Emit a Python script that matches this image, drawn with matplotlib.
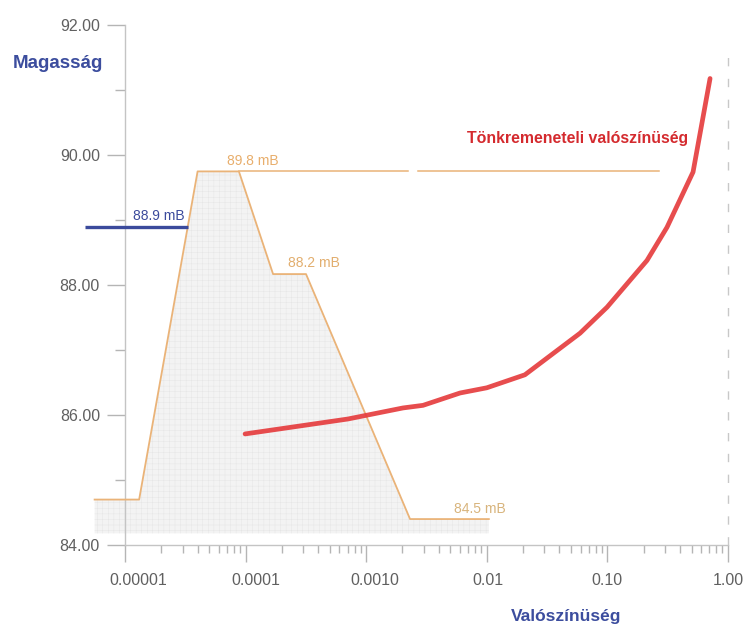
import matplotlib
matplotlib.use("Agg")
import matplotlib.pyplot as plt
import matplotlib.transforms as mtransforms
from matplotlib.ticker import FixedLocator, NullFormatter

plt.rcParams['font.family'] = ['Liberation Sans', 'DejaVu Sans']
plt.rcParams['hatch.linewidth'] = 0.3

# ---- data ----
# distribution (orange profile) of water level vs probability
profile_x = [5.6e-6, 1.31e-5, 4.0e-5, 8.8e-5, 1.69e-4, 3.17e-4, 2.31e-3, 1.04e-2]
profile_y = [84.7, 84.7, 89.75, 89.75, 88.17, 88.17, 84.4, 84.4]
fill_base = 84.18

# long horizontal 89.8 mB level line (two segments with a gap)
level_seg1_x = [8.8e-5, 2.22e-3]
level_seg2_x = [2.69e-3, 0.268]
level_y = 89.75

# blue 88.9 mB level
blue_x = [4.7e-6, 3.3e-5]
blue_y = 88.9

# failure probability curve (red)
fail_x = [9.9e-5, 7.06e-4, 2.02e-3, 2.96e-3, 6.0e-3, 1.0e-2, 2.07e-2, 5.93e-2,
          9.93e-2, 0.213, 0.312, 0.513, 0.710]
fail_y = [85.71, 85.94, 86.11, 86.15, 86.34, 86.42, 86.62, 87.26,
          87.66, 88.38, 88.89, 89.74, 91.18]

x_ticks = [1e-5, 1e-4, 1e-3, 1e-2, 1e-1, 1.0]
x_ticklabels = ["0.00001", "0.0001", "0.0010", "0.01", "0.10", "1.00"]
y_ticks = [84, 86, 88, 90, 92]
y_ticklabels = ["84.00", "86.00", "88.00", "90.00", "92.00"]
y_minor = [85, 87, 89, 91]

labels = [
    ("88.9 mB", 1.91e-5, 89.06, '#3b4a9c'),
    ("89.8 mB", 1.15e-4, 89.91, '#e8ae6c'),
    ("88.2 mB", 3.69e-4, 88.34, '#e2ae6e'),
    ("84.5 mB", 8.8e-3, 84.55, '#d8b47c'),
]

# ---- figure ----
W, H = 745, 629
fig = plt.figure(figsize=(W / 100, H / 100), dpi=100)
ax = fig.add_axes([80 / W, (H - 560) / H, 660 / W, 540 / H])
ax.set_xscale('log')
ax.set_xlim(10 ** -5.373, 10 ** 0.0995)
ax.set_ylim(83.77, 92.08)

orange = '#eab378'
tick_gray = '#b5b5b5'

# fill
ax.fill_between(profile_x, profile_y, fill_base, facecolor='#f3f3f3',
                edgecolor='#e4e4e4', hatch='+++', linewidth=0, zorder=1)
ax.plot(profile_x, profile_y, color=orange, lw=1.3, zorder=3)
ax.plot(level_seg1_x, [level_y, level_y], color=orange, lw=1.1, zorder=3)
ax.plot(level_seg2_x, [level_y, level_y], color=orange, lw=1.1, zorder=3)

ax.plot(blue_x, [blue_y, blue_y], color='#3b4a9c', lw=2.4, zorder=4,
        solid_capstyle='butt', clip_on=False)

ax.plot(fail_x, fail_y, color='#e5393b', lw=3.4, zorder=5, alpha=0.9,
        solid_capstyle='round')

# dashed reference line at probability 1
ax.plot([1.0, 1.0], [84.0, 91.57], color='#c8c8c8', lw=1.0,
        dashes=(6, 9), zorder=2)

for txt, x, y, c in labels:
    ax.text(x, y, txt, color=c, fontsize=10, ha='center', va='center', zorder=6)

ax.text(0.057, 90.26, "Tönkremeneteli valószínüség", color='#d42a2e',
        fontsize=11.4, fontweight='bold', ha='center', va='center', zorder=6)

# spines
for s in ['top', 'right']:
    ax.spines[s].set_visible(False)
ax.spines['left'].set_position(('data', 1e-5))
ax.spines['left'].set_bounds(84, 92)
ax.spines['bottom'].set_position(('data', 84))
ax.spines['bottom'].set_bounds(1e-5, 1.0)
for s in ['left', 'bottom']:
    ax.spines[s].set_color('#c4c4c4')
    ax.spines[s].set_linewidth(1.0)

# ticks
ax.xaxis.set_major_locator(FixedLocator(x_ticks))
ax.set_xticklabels(x_ticklabels)
minor = [m * 10.0 ** e for e in range(-5, 0) for m in range(2, 10)]
ax.xaxis.set_minor_locator(FixedLocator(minor))
ax.xaxis.set_minor_formatter(NullFormatter())
ax.set_yticks(y_ticks)
ax.set_yticklabels(y_ticklabels)
ax.yaxis.set_minor_locator(FixedLocator(y_minor))

ax.tick_params(axis='x', which='major', length=12, width=1.0, color=tick_gray,
               direction='out', labelsize=11.5, labelcolor='#606060', pad=8)
ax.tick_params(axis='x', which='minor', length=6, width=1.0, color=tick_gray,
               direction='out')
ax.tick_params(axis='y', which='major', length=13, width=1.0, color=tick_gray,
               direction='out', labelsize=11.5, labelcolor='#606060', pad=5)
ax.tick_params(axis='y', which='minor', length=7, width=1.0, color=tick_gray,
               direction='out')

# slight horizontal shifts of first x labels (as in the reference)
shifts = [13, 10, 9, 1, 0, 0]
for lab, dx in zip(ax.get_xticklabels(), shifts):
    off = mtransforms.ScaledTranslation(dx / 100, 0, fig.dpi_scale_trans)
    lab.set_transform(lab.get_transform() + off)

# axis titles
fig.text(58 / W, 1 - 63 / H, "Magasság", color='#3c4d9e', fontsize=13.5,
         fontweight='bold', ha='center', va='center')
fig.text(566 / W, 1 - 617 / H, "Valószínüség", color='#3c4d9e', fontsize=12.5,
         fontweight='bold', ha='center', va='center')

fig.savefig("out.png", dpi=100)
